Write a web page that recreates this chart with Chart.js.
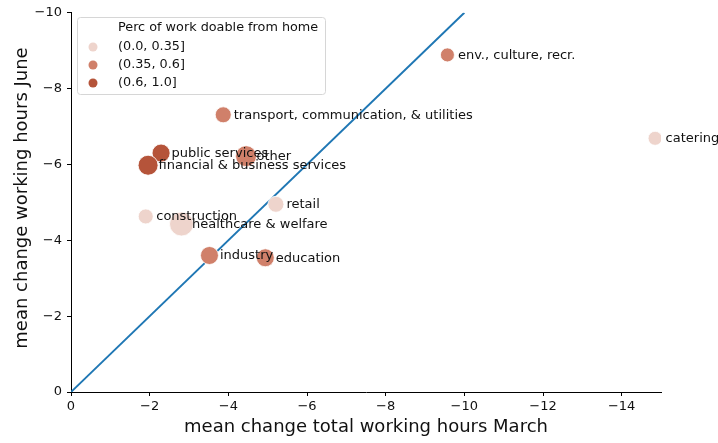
<!DOCTYPE html>
<html>
<head>
<meta charset="utf-8">
<script src="https://cdn.jsdelivr.net/npm/chart.js@4"></script>
<style>
html,body{margin:0;padding:0;background:#fff;}
#wrap{width:718px;height:443px;position:relative;}
</style>
</head>
<body>
<div id="wrap"><canvas id="c" width="718" height="443"></canvas></div>
<script>
// ---- data ----
const sectors = ["env., culture, recr.", "catering", "transport, communication, & utilities", "public services", "financial & business services", "other", "retail", "construction", "healthcare & welfare", "industry", "education"];
const marchChange = [-9.57, -14.85, -3.87, -2.29, -1.96, -4.45, -5.21, -1.90, -2.81, -3.52, -4.94];
const juneChange  = [-8.89, -6.69, -7.31, -6.30, -5.98, -6.22, -4.95, -4.63, -4.43, -3.60, -3.54];
const bubbleSizes = [7, 7, 8, 9, 10, 10.5, 8, 7.5, 12, 9, 9];
const homeGroup   = [1, 0, 1, 2, 2, 1, 0, 0, 0, 1, 1];
const groupLabels = ["(0.0, 0.35]", "(0.35, 0.6]", "(0.6, 1.0]"];
const groupColors = ["rgb(238,212,204)", "rgb(208,128,106)", "rgb(181,84,58)"];
const legendTitle = "Perc of work doable from home";
const xTicks = [0, -2, -4, -6, -8, -10, -12, -14];
const yTicks = [0, -2, -4, -6, -8, -10];
const diagonal = [0, -10];

const FONT = "'DejaVu Sans', sans-serif";
const fmt = v => v === 0 ? "0" : "\u2212" + Math.abs(v);

const bubbleSets = groupLabels.map((lab, g) => ({
  type: 'bubble',
  label: lab,
  order: 1,
  data: sectors.map((s, i) => ({x: marchChange[i], y: juneChange[i], r: bubbleSizes[i], name: s, g: homeGroup[i]})).filter(p => p.g === g),
  backgroundColor: groupColors[g],
  borderColor: '#ffffff',
  borderWidth: 0.8,
  hoverRadius: 0
}));

const lineSet = {
  type: 'line',
  label: 'diag',
  order: 5,
  data: diagonal.map(v => ({x: v, y: v})),
  borderColor: '#1f77b4',
  borderWidth: 1.9,
  pointRadius: 0,
  fill: false
};

const labelPlugin = {
  id: 'labels',
  afterDatasetsDraw(chart) {
    const ctx = chart.ctx;
    ctx.save();
    ctx.font = "13px " + FONT;
    ctx.fillStyle = '#111';
    ctx.textBaseline = 'middle';
    ctx.textAlign = 'left';
    chart.data.datasets.forEach((ds, di) => {
      if (ds.type !== 'bubble') return;
      const meta = chart.getDatasetMeta(di);
      meta.data.forEach((el, i) => {
        ctx.fillText(ds.data[i].name, el.x + 10.5, el.y + 0.5);
      });
    });
    ctx.restore();
  },
  afterDraw(chart) {
    const ctx = chart.ctx;
    const ca = chart.chartArea;
    ctx.save();
    // legend box
    const bx = 77.5, by = 17.5, bw = 248, bh = 77;
    ctx.beginPath();
    if (ctx.roundRect) ctx.roundRect(bx, by, bw, bh, 3); else ctx.rect(bx, by, bw, bh);
    ctx.fillStyle = 'rgba(255,255,255,0.8)';
    ctx.fill();
    ctx.strokeStyle = '#d6d6d6';
    ctx.lineWidth = 1;
    ctx.stroke();
    ctx.font = "12.8px " + FONT;
    ctx.fillStyle = '#111';
    ctx.textBaseline = 'middle';
    ctx.fillText(legendTitle, 118, 28);
    groupLabels.forEach((lab, g) => {
      const yy = 47 + g * 18;
      ctx.beginPath();
      ctx.arc(93, yy, 4.5, 0, Math.PI * 2);
      ctx.fillStyle = groupColors[g];
      ctx.fill();
      ctx.fillStyle = '#111';
      ctx.fillText(lab, 118, yy);
    });
    // axis titles
    ctx.font = "18px " + FONT;
    ctx.textAlign = 'center';
    ctx.fillText("mean change total working hours March", (ca.left + ca.right) / 2, 427);
    ctx.translate(22, 198);
    ctx.rotate(-Math.PI / 2);
    ctx.fillText("mean change working hours June", 0, 0);
    ctx.restore();
  }
};

new Chart(document.getElementById('c'), {
  data: { datasets: [lineSet, ...bubbleSets] },
  options: {
    responsive: false,
    animation: false,
    events: [],
    layout: { padding: { left: 0, top: 11, right: 57, bottom: 0 } },
    plugins: { legend: { display: false }, tooltip: { enabled: false } },
    scales: {
      x: {
        type: 'linear',
        min: -15, max: 0, reverse: true,
        afterBuildTicks: s => { s.ticks = xTicks.map(v => ({value: v})); },
        afterFit: s => { s.height = 51; },
        grid: { drawOnChartArea: false, tickLength: 4, tickColor: '#000', tickWidth: 1 },
        border: { display: true, color: '#000', width: 1 },
        ticks: { callback: v => fmt(v), color: '#111', font: { family: FONT, size: 13 }, padding: 3, maxRotation: 0 }
      },
      y: {
        type: 'linear',
        min: -10, max: 0, reverse: true,
        afterBuildTicks: s => { s.ticks = yTicks.map(v => ({value: v})); },
        afterFit: s => { s.width = 71; },
        grid: { drawOnChartArea: false, tickLength: 4, tickColor: '#000', tickWidth: 1 },
        border: { display: true, color: '#000', width: 1 },
        ticks: { callback: v => fmt(v), color: '#111', font: { family: FONT, size: 13 }, padding: 5 }
      }
    }
  },
  plugins: [labelPlugin]
});
</script>
</body>
</html>
